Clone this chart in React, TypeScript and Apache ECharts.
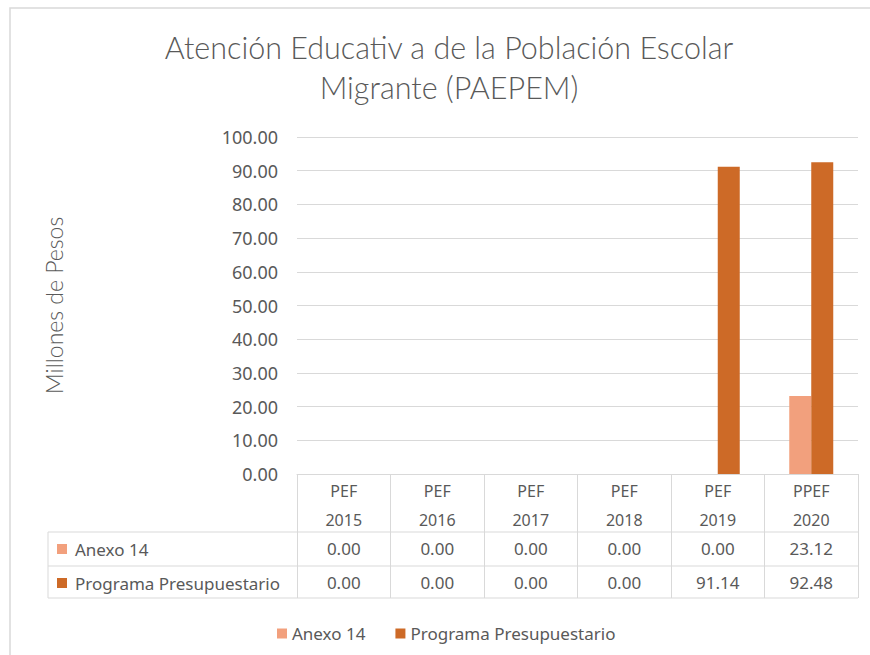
import React, { useEffect, useRef } from "react";
import * as echarts from "echarts";

const categories = ["PEF\n2015", "PEF\n2016", "PEF\n2017", "PEF\n2018", "PEF\n2019", "PPEF\n2020"];
const seriesNames = ["Anexo 14", "Programa Presupuestario"];
const anexo14 = [0.0, 0.0, 0.0, 0.0, 0.0, 23.12];
const programa = [0.0, 0.0, 0.0, 0.0, 91.14, 92.48];
const colors = ["#F2A07D", "#CD6A27"];
const titleText = "Atención Educativ a de la Población Escolar\nMigrante (PAEPEM)";
const yAxisName = "Millones de Pesos";

const FONT = "'Noto Sans', sans-serif";
const GRAY = "#595959";
const LINE = "#d9d9d9";

export default function App() {
  const ref = useRef<HTMLDivElement>(null);
  useEffect(() => {
    if (!ref.current) return;
    const chart = echarts.init(ref.current, null, { renderer: "svg" });
    const gridTop = 137;
    const gridBottomY = 474;
    const gridLeft = 297;
    const gridRight = 858;
    const row1 = 532;
    const row2 = 566;
    const row3 = 598;
    const tableLeft = 48;
    const valueAxis = (data: number[], offset: number) => ({
      type: "category",
      data: data.map((v) => v.toFixed(2)),
      position: "bottom",
      offset,
      axisLine: { show: false },
      axisTick: { show: false },
      axisLabel: { color: GRAY, fontFamily: FONT, fontSize: 17, margin: 0, lineHeight: 20, interval: 0 },
    });
    chart.setOption({
      animation: false,
      backgroundColor: "#ffffff",
      textStyle: { fontFamily: FONT },
      title: {
        text: titleText,
        left: 444,
        top: 22,
        textAlign: "center",
        textStyle: { color: GRAY, fontFamily: "Lato, 'Noto Sans', sans-serif", fontSize: 30.5, fontWeight: 300, lineHeight: 40 },
      },
      legend: {
        data: seriesNames,
        left: 272,
        top: 620,
        itemWidth: 10,
        itemHeight: 10,
        itemGap: 30,
        icon: "rect",
        textStyle: { color: GRAY, fontFamily: FONT, fontSize: 17 },
      },
      grid: { left: gridLeft, right: 870 - gridRight, top: gridTop, bottom: 655 - gridBottomY, containLabel: false },
      xAxis: [
        {
          type: "category",
          data: categories,
          position: "bottom",
          axisLine: { show: true, lineStyle: { color: LINE } },
          axisTick: { show: true, length: row3 - gridBottomY, lineStyle: { color: LINE } },
          axisLabel: { color: GRAY, fontFamily: FONT, fontSize: 16, margin: 2, lineHeight: 29, interval: 0 },
        },
        valueAxis(anexo14, 64),
        valueAxis(programa, 98),
      ],
      yAxis: {
        type: "value",
        min: 0,
        max: 100,
        interval: 10,
        name: yAxisName,
        nameLocation: "middle",
        nameRotate: 90,
        nameGap: 232,
        nameTextStyle: { color: GRAY, fontFamily: "Lato, 'Noto Sans', sans-serif", fontSize: 23, fontWeight: 300 },
        axisLine: { show: false },
        axisTick: { show: false },
        axisLabel: { color: GRAY, fontFamily: FONT, fontSize: 18, margin: 19, formatter: (v: number) => v.toFixed(2) },
        splitLine: { lineStyle: { color: LINE } },
      },
      series: [
        { name: seriesNames[0], type: "bar", data: anexo14, barWidth: 22, barGap: "0%", itemStyle: { color: colors[0] } },
        { name: seriesNames[1], type: "bar", data: programa, barWidth: 22, barGap: "0%", itemStyle: { color: colors[1] } },
      ],
      graphic: [
        { type: "rect", silent: true, shape: { x: 10, y: 8, width: 880, height: 670 }, style: { fill: "none", stroke: "#d9d9d9", lineWidth: 1.5 }, z: -10 },
        { type: "line", shape: { x1: tableLeft, y1: row1, x2: gridRight, y2: row1 }, style: { stroke: LINE, lineWidth: 1 } },
        { type: "line", shape: { x1: tableLeft, y1: row2, x2: gridRight, y2: row2 }, style: { stroke: LINE, lineWidth: 1 } },
        { type: "line", shape: { x1: tableLeft, y1: row3, x2: gridRight, y2: row3 }, style: { stroke: LINE, lineWidth: 1 } },
        { type: "line", shape: { x1: tableLeft, y1: row1, x2: tableLeft, y2: row3 }, style: { stroke: LINE, lineWidth: 1 } },
        { type: "rect", shape: { x: 57, y: 544, width: 10, height: 10 }, style: { fill: colors[0] } },
        { type: "text", x: 75, y: 549, style: { text: seriesNames[0], fill: GRAY, font: `17px ${FONT}`, verticalAlign: "middle" } },
        { type: "rect", shape: { x: 57, y: 578, width: 10, height: 10 }, style: { fill: colors[1] } },
        { type: "text", x: 75, y: 583, style: { text: seriesNames[1], fill: GRAY, font: `17px ${FONT}`, verticalAlign: "middle" } },
      ],
    });
    return () => chart.dispose();
  }, []);
  return <div ref={ref} style={{ position: "fixed", left: 0, top: 0, width: 870, height: 655 }} />;
}
